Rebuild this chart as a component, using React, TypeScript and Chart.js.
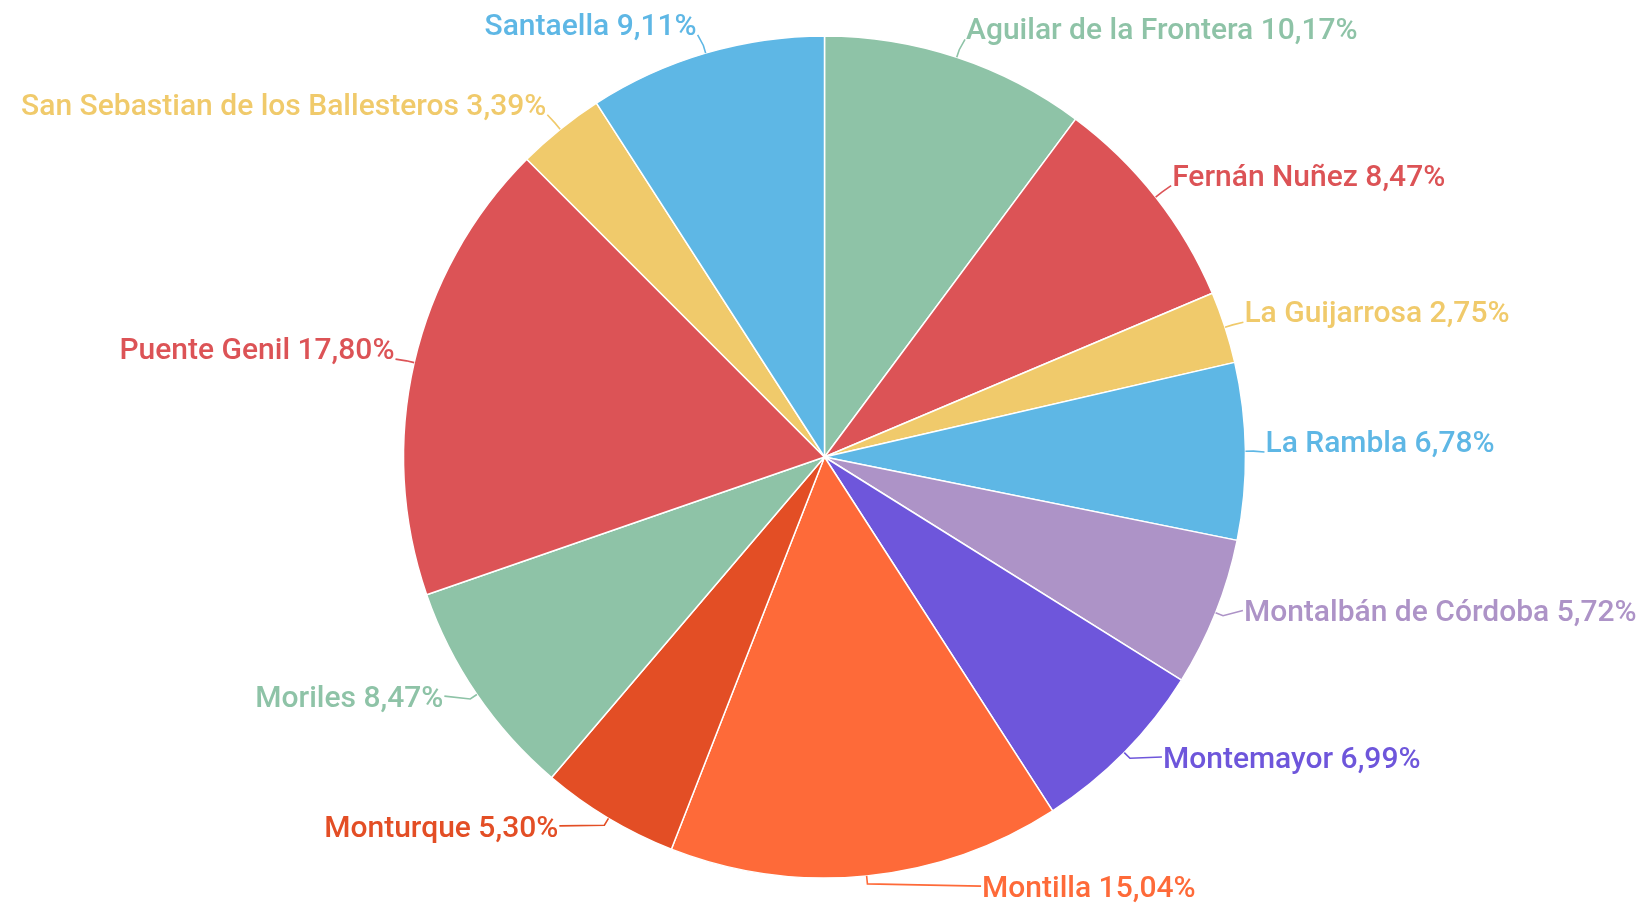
import React, { useEffect, useRef } from 'react';
import { Chart, registerables } from 'chart.js';

Chart.register(...registerables);

const categories = [
  'Aguilar de la Frontera',
  'Fernán Nuñez',
  'La Guijarrosa',
  'La Rambla',
  'Montalbán de Córdoba',
  'Montemayor',
  'Montilla',
  'Monturque',
  'Moriles',
  'Puente Genil',
  'San Sebastian de los Ballesteros',
  'Santaella',
];

const shares = [10.17, 8.47, 2.75, 6.78, 5.72, 6.99, 15.04, 5.3, 8.47, 17.8, 3.39, 9.11];

const sliceColors = [
  '#8EC3A7',
  '#DC5356',
  '#F0CA6B',
  '#5EB7E5',
  '#AD93C7',
  '#6E56DB',
  '#FE6A39',
  '#E34E25',
  '#8EC3A7',
  '#DC5356',
  '#F0CA6B',
  '#5EB7E5',
];

const FONT_FAMILY = 'Roboto, "Noto Sans", sans-serif';
const FONT_SIZE = 30;
const FONT_WEIGHT = 500;
const PIE_RADIUS = 421;
const LABEL_GAP = 20;

const fmt = (v: number) => v.toFixed(2).replace('.', ',') + '%';

const outerLabels = {
  id: 'outerLabels',
  afterDatasetsDraw(chart: any) {
    const ctx = chart.ctx as CanvasRenderingContext2D;
    const meta = chart.getDatasetMeta(0);
    ctx.save();
    ctx.font = `${FONT_WEIGHT} ${FONT_SIZE}px ${FONT_FAMILY}`;
    const ascent = FONT_SIZE * 0.93;
    const capH = FONT_SIZE * 0.71;
    meta.data.forEach((el: any, i: number) => {
      const { x, y, startAngle, endAngle, outerRadius } = el.getProps(
        ['x', 'y', 'startAngle', 'endAngle', 'outerRadius'],
        true
      );
      const mid = (startAngle + endAngle) / 2;
      const c = Math.cos(mid);
      const s = Math.sin(mid);
      const ax = x + outerRadius * c;
      const ay = y + outerRadius * s;
      const py = y + (outerRadius + LABEL_GAP) * s;
      const baseline = py + 1;
      const text = `${categories[i]} ${fmt(shares[i])}`;
      const top = baseline - ascent;
      const nearY = Math.min(Math.max(y, top), baseline);
      const dy = nearY - y;
      const RL = outerRadius + LABEL_GAP;
      const dx = Math.sqrt(Math.max(RL * RL - dy * dy, 0));
      const right = c >= 0;
      const nearX = right ? x + dx : x - dx;
      const below = s > 0.05;
      const anchorY = below ? baseline - capH / 2 : baseline;
      const ex = x + (outerRadius + 8) * c;
      const ey = y + (outerRadius + 8) * s;
      ctx.strokeStyle = sliceColors[i];
      ctx.lineWidth = 1.6;
      ctx.beginPath();
      ctx.moveTo(ax, ay);
      ctx.lineTo(ex, ey);
      ctx.lineTo(nearX + (right ? -1 : 1), anchorY);
      ctx.stroke();
      ctx.fillStyle = sliceColors[i];
      ctx.textAlign = right ? 'left' : 'right';
      ctx.textBaseline = 'alphabetic';
      ctx.fillText(text, nearX, baseline);
    });
    ctx.restore();
  },
};

export default function App() {
  const canvasRef = useRef<HTMLCanvasElement | null>(null);

  useEffect(() => {
    const canvas = canvasRef.current;
    if (!canvas) return;
    const chart = new Chart(canvas, {
      type: 'pie',
      data: {
        labels: categories,
        datasets: [
          {
            data: shares,
            backgroundColor: sliceColors,
            borderColor: '#ffffff',
            borderWidth: 1.5,
            radius: PIE_RADIUS,
            hoverOffset: 0,
          },
        ],
      },
      options: {
        responsive: false,
        animation: false,
        events: [],
        layout: { padding: { left: 7, top: 10, right: 0, bottom: 0 } },
        plugins: {
          legend: { display: false },
          tooltip: { enabled: false },
          title: { display: false },
        },
      },
      plugins: [outerLabels],
    });
    let alive = true;
    if ((document as any).fonts && (document as any).fonts.load) {
      (document as any).fonts
        .load(`${FONT_WEIGHT} ${FONT_SIZE}px Roboto`)
        .then(() => {
          if (alive) chart.draw();
        })
        .catch(() => {});
    }
    return () => {
      alive = false;
      chart.destroy();
    };
  }, []);

  return (
    <div
      style={{
        position: 'fixed',
        left: 0,
        top: 0,
        width: 1642,
        height: 904,
        background: '#ffffff',
      }}
    >
      <canvas ref={canvasRef} width={1642} height={904} style={{ width: 1642, height: 904 }} />
    </div>
  );
}
